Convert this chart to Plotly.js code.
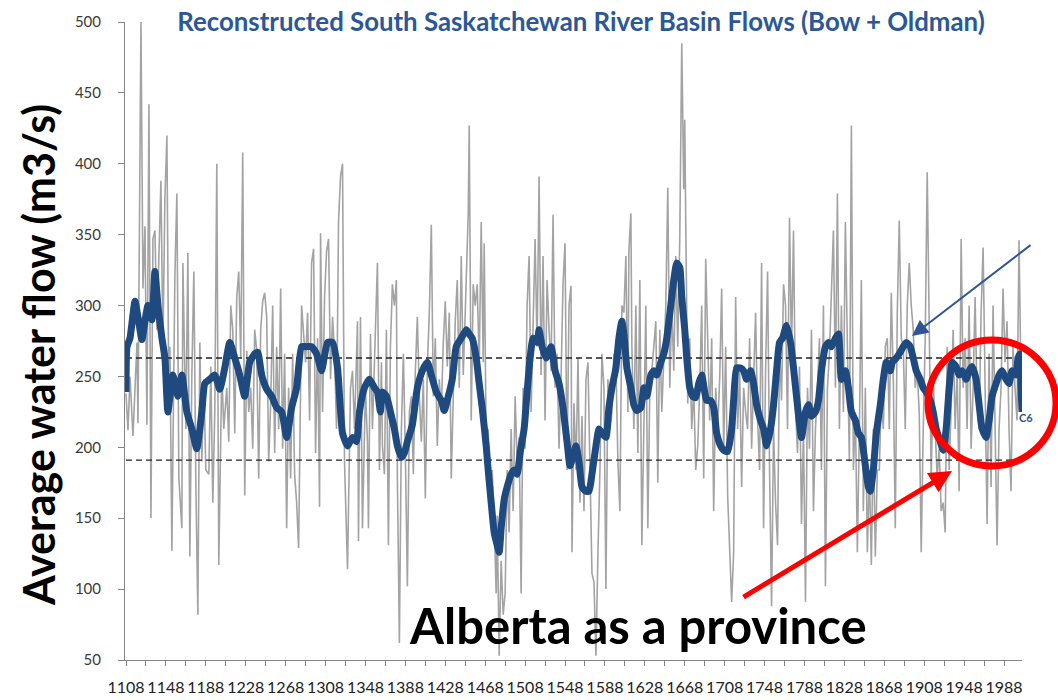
<!DOCTYPE html>
<html>
<head>
<meta charset="utf-8">
<script src="https://cdn.plot.ly/plotly-3.0.1.min.js"></script>
<style>
html,body{margin:0;padding:0;background:#fff;}
#chart{width:1058px;height:700px;}
</style>
</head>
<body>
<div id="chart"></div>
<script>
// Annual reconstructed flow (grey)
const greyYears = [
1108,1110,1112,1115,1119,1120,1123,1125,1127,1129,
1131,1133,1135,1137,1139,1141,1143,1145,1147,1149,
1151,1152,1154,1155,1157,1159,1161,1164,1165,1168,
1170,1172,1174,1176,1178,1180,1182,1184,1186,1188,
1191,1193,1195,1197,1199,1201,1204,1206,1209,1211,
1213,1215,1217,1219,1221,1223,1225,1227,1229,1231,
1233,1235,1237,1239,1241,1243,1245,1247,1249,1251,
1253,1255,1257,1259,1261,1263,1265,1267,1269,1271,
1273,1275,1277,1279,1281,1284,1286,1288,1290,1292,
1294,1296,1298,1300,1302,1303,1305,1307,1309,1311,
1313,1315,1317,1319,1321,1323,1325,1327,1330,
1333,1335,1337,1340,1341,1343,1345,1348,1350,1351,
1353,1355,1358,1360,1362,1364,1365,1367,1369,1371,
1373,1375,1377,1379,1380,1382,1384,1386,1388,1390,
1392,1394,1396,1398,1400,1402,1404,1406,1408,1410,
1412,1414,1416,1418,1420,1422,1424,1426,1428,1430,
1432,1434,1436,1438,1440,1442,1444,1446,1448,1450,
1451,1452,1454,1456,1458,1460,1462,1464,1466,1467,
1469,1471,1473,1475,1477,1479,1480,1482,1484,1486,
1488,1490,1492,1494,1496,1498,1500,1502,1504,1506,
1508,1510,1512,1514,1516,1518,1520,1522,1524,1526,
1528,1530,1532,1534,1536,1538,1540,1542,1544,1546,
1548,1550,1552,
1554,1555,1557,1559,1561,1563,1565,1567,1569,1571,
1573,1575,1577,1579,1581,1583,1585,1587,1589,1591,
1593,1595,1597,1599,1601,1603,1605,1607,1609,1611,
1612,1614,1615,1617,1619,1621,1623,1625,1627,1629,
1631,1633,1635,1637,1639,1641,1643,1645,1647,1649,
1651,1653,1655,1657,1659,1661,1663,1665,1667,1668,
1669,1671,1673,1675,1677,1679,1681,1683,1685,1687,
1689,1691,1693,1695,1697,1699,1701,1703,1705,1707,
1709,1711,1713,1715,1717,1719,1721,1723,1725,1727,
1729,1731,1733,1735,1737,1739,1741,1743,1745,1747,
1749,1751,1753,1755,1757,1759,1761,1763,1765,1767,
1769,1771,1773,1775,1777,
1779,1781,1783,1785,1787,1789,1791,1793,1795,1797,
1799,1801,1803,1805,1807,1809,1811,1813,1815,1817,
1819,1821,1823,1825,1827,1829,1831,1833,1835,1837,
1839,1841,1843,1845,1847,1849,1851,1853,1855,1857,
1859,1861,1863,1865,1867,1869,1871,1873,1875,1877,
1879,1881,1883,1885,1887,1889,1891,1893,1895,1897,
1899,1901,1903,1905,1907,1909,1911,1913,1915,1917,
1919,1921,1923,1925,1927,1929,1931,1933,1935,1937,
1939,1941,1943,1945,1947,1949,1951,1953,1955,1957,
1959,1961,1963,1965,1967,1969,1971,1973,1975,1977,
1979,1981,1983,1985,1987,1989,1991,1993,1995,1997,
1999,2001,2003,2005
];
const greyFlow = [
238,212,250,208,274,217,500,312,356,216,
442,150,347,353,283,347,388,271,376,420,
225,271,127,196,321,379,178,143,330,213,
337,123,251,324,175,82,274,190,248,184,
181,257,161,225,400,117,254,213,242,204,
300,283,210,306,324,263,408,166,268,225,
242,199,283,268,178,283,303,309,292,190,
231,300,196,271,213,312,199,266,143,242,
178,266,181,161,129,300,283,260,295,219,
330,340,196,277,158,351,225,306,338,347,
248,292,266,213,359,391,400,190,114,
242,254,213,289,134,292,143,242,204,143,
280,213,295,330,184,260,201,181,283,131,
271,315,300,318,178,62,213,266,196,102,
225,236,181,254,292,236,204,248,164,257,
295,357,236,277,201,248,225,274,303,257,
295,178,236,289,318,242,335,251,295,335,
365,427,219,315,300,315,257,359,260,344,
204,213,155,184,149,97,152,53,120,82,
97,184,140,213,155,236,190,207,97,242,
199,300,335,225,300,347,271,391,251,335,
219,318,283,254,364,242,266,199,248,315,
344,184,300,
314,126,231,184,263,161,222,155,248,260,
196,111,105,53,126,184,266,242,100,248,
213,225,266,260,190,155,300,295,335,225,
338,365,271,213,300,196,318,131,213,300,
143,242,254,271,289,175,283,225,266,300,
383,242,300,254,335,271,347,485,382,431,
359,231,277,213,242,184,201,242,300,178,
333,263,219,277,155,242,213,248,312,199,
271,166,134,91,126,306,213,254,172,242,
225,213,277,199,248,295,219,184,330,143,
254,324,184,88,213,161,131,271,233,315,
300,213,362,266,353,
228,196,257,146,213,91,242,199,283,155,
213,242,277,184,300,102,242,266,318,353,
242,379,213,300,225,359,271,190,427,184,
225,126,213,318,155,242,126,184,117,213,
123,184,184,236,213,271,277,213,309,248,
143,295,360,277,271,213,300,330,300,283,
242,254,225,126,213,277,394,271,178,248,
213,178,199,155,161,140,271,184,228,283,
213,254,169,347,242,277,213,300,199,242,
306,231,213,295,341,242,146,266,172,300,
213,131,213,242,312,260,289,213,169,271,
242,219,346,248
];

// Smoothed flow (blue)
const blueYears = [
1108,1109,1112,1117,1120,1124,1127,1130,1134,1137,
1140,1144,1147,1150,1155,1160,1164,1169,1174,1179,
1184,1187,1192,1197,1202,1207,1212,1217,1222,1227,
1232,1237,1240,1244,1249,1254,1259,1264,1269,1274,
1279,1284,1289,1294,1299,1304,1310,1315,1320,1325,
1330,1335,1339,1342,1347,1352,1357,1360,1363,1365,
1369,1374,1377,1380,1384,1387,1390,1395,1400,1405,
1410,1414,1419,1424,1427,1431,1435,1439,1444,1449,
1452,1455,1459,1462,1465,1469,1471,1474,1477,1480,
1482,1484,1487,1490,1494,1497,1500,1503,1507,1510,
1513,1516,1520,1522,1525,1529,1534,1538,1542,1546,
1550,1553,1557,1559,1562,1565,1569,1572,1575,1579,
1582,1585,1589,1592,1595,1599,1602,1605,1607,1610,
1614,1617,1620,1624,1627,1630,1634,1637,1640,1644,
1647,1650,1654,1657,1660,1663,1665,1668,1670,1673,
1676,1679,1682,1685,1688,1690,1694,1697,1700,1704,
1707,1711,1715,1717,1720,1724,1727,1730,1734,1737,
1740,1744,1747,1750,1754,1757,1760,1763,1766,1770,
1774,1777,1780,1785,1789,1792,1795,1799,1802,1805,
1809,1812,1815,1819,1822,1825,1829,1832,1835,1839,
1842,1845,1849,1852,1854,1857,1860,1864,1867,1870,
1874,1876,1880,1883,1887,1890,1894,1897,1900,1904,
1907,1910,1914,1917,1920,1924,1927,1930,1933,1936,
1940,1943,1946,1950,1953,1956,1960,1963,1966,1970,
1973,1976,1980,1983,1986,1990,1993,1996,2000,2002,
2004,2005,2006
];
const blueFlow = [
239,271,277,303,292,276,289,300,290,324,
300,277,263,225,251,236,251,225,213,199,
225,245,248,251,241,256,274,263,251,236,
260,266,267,251,241,236,228,225,207,228,
242,271,271,271,266,254,274,274,256,210,
201,207,204,225,242,248,242,239,225,239,
236,222,213,201,193,196,204,216,242,254,
260,251,239,233,226,236,248,271,277,283,
280,277,263,245,228,201,184,161,140,131,
126,143,163,172,181,184,181,196,213,239,
263,277,274,283,271,263,271,254,245,228,
204,187,196,201,190,172,169,169,181,201,
213,210,207,228,242,256,277,289,280,256,
242,230,226,228,242,236,251,254,251,260,
266,277,300,318,330,327,306,283,263,242,
236,235,245,251,239,233,233,228,210,201,
198,197,213,233,256,256,254,248,254,245,
230,219,213,201,213,230,254,274,277,286,
274,256,236,207,225,230,222,225,233,254,
271,274,271,277,280,248,254,242,225,219,
210,207,187,172,169,184,210,230,248,260,
254,260,263,266,271,274,271,263,254,248,
242,239,233,225,213,204,198,213,242,260,
257,251,254,248,254,257,248,230,213,207,
219,236,245,251,254,248,245,254,251,263,
266,242,225
];

// Reference levels (dashed)
const refLevels = [263, 191];

// Axis tick labels
const xTickLabels = ['1108','1148','1188','1228','1268','1308','1348','1388','1428','1468','1508','1548','1588','1628','1668','1708','1748','1788','1828','1868','1908','1948','1988'];
const yTickValues = [50,100,150,200,250,300,350,400,450,500];

const titleText = 'Reconstructed South Saskatchewan River Basin Flows (Bow + Oldman)';
const yTitleText = 'Average water flow (m3/s)';
const calloutText = 'Alberta as a province';

const firstYear = greyYears[0];
const lastYear = blueYears[blueYears.length - 1];

const traces = [];
traces.push({
  x: greyYears, y: greyFlow, type: 'scatter', mode: 'lines',
  line: {color: '#a3a3a3', width: 1.6}, hoverinfo: 'skip', showlegend: false
});
refLevels.forEach(v => {
  traces.push({
    x: [firstYear, lastYear], y: [v, v], type: 'scatter', mode: 'lines',
    line: {color: '#222222', width: 1.4, dash: '6px,4px'}, hoverinfo: 'skip', showlegend: false
  });
});
traces.push({
  x: blueYears, y: blueFlow, type: 'scatter', mode: 'lines',
  line: {color: '#1f4a80', width: 7, shape: 'spline', smoothing: 0.5}, hoverinfo: 'skip', showlegend: false
});

const PL = 125, PR = 1022, PT = 22, PB = 660;
const px = x => (x - PL) / (PR - PL);
const py = y => (PB - y) / (PB - PT);

const layout = {
  width: 1058, height: 700,
  margin: {l: PL, r: 1058 - PR, t: PT, b: 700 - PB, pad: 0},
  paper_bgcolor: '#ffffff', plot_bgcolor: '#ffffff',
  showlegend: false,
  font: {family: 'Lato, "Open Sans", sans-serif'},
  title: {
    text: '<b>' + titleText + '</b>',
    font: {family: 'Lato, sans-serif', size: 25.8, color: '#2b5797'},
    x: 581/1058, xanchor: 'center', xref: 'container',
    y: 1 - 22/700, yanchor: 'middle', yref: 'container'
  },
  xaxis: {
    range: [1107, 2006],
    tickmode: 'array',
    tickvals: xTickLabels.map(Number),
    ticktext: xTickLabels,
    ticks: 'outside', ticklen: 5, tickcolor: '#868686', tickwidth: 1,
    minor: {tickmode: 'linear', tick0: 1128, dtick: 40, ticks: 'outside', ticklen: 5, tickcolor: '#868686', showgrid: false},
    showline: true, linecolor: '#868686', linewidth: 1,
    showgrid: false, zeroline: false,
    tickfont: {family: 'Lato, sans-serif', size: 16, color: '#222222'},
    ticklabelstandoff: 8, fixedrange: true
  },
  yaxis: {
    range: [50, 500],
    tickmode: 'array', tickvals: yTickValues, ticktext: yTickValues.map(String),
    ticks: 'outside', ticklen: 6, tickcolor: '#868686', tickwidth: 1,
    showline: true, linecolor: '#868686', linewidth: 1,
    showgrid: false, zeroline: false,
    tickfont: {family: 'Lato, sans-serif', size: 15, color: '#3a3a3a'},
    ticklabelstandoff: 14, fixedrange: true
  },
  shapes: [
    {type: 'circle', xref: 'paper', yref: 'paper',
     x0: px(928), x1: px(1056), y0: py(466), y1: py(340),
     line: {color: '#ff0000', width: 7}, fillcolor: 'rgba(0,0,0,0)', layer: 'above'}
  ],
  annotations: [
    {text: '<b>' + yTitleText + '</b>', xref: 'paper', yref: 'paper',
     x: px(38), y: py(355), xanchor: 'center', yanchor: 'middle', textangle: -90,
     showarrow: false, font: {family: 'Lato, sans-serif', size: 43, color: '#000000'}},
    {text: '<b>' + calloutText + '</b>', xref: 'paper', yref: 'paper',
     x: px(638), y: py(625), xanchor: 'center', yanchor: 'middle',
     showarrow: false, font: {family: 'Lato, sans-serif', size: 49, color: '#000000'}},
    {text: '', xref: 'paper', yref: 'paper', x: px(952), y: py(471),
     showarrow: true, ax: 742 - 952, ay: 598 - 471, arrowhead: 2, arrowsize: 0.9,
     arrowwidth: 5, arrowcolor: '#ff0000'},
    {text: '', xref: 'paper', yref: 'paper', x: px(912), y: py(336),
     showarrow: true, ax: 1032 - 912, ay: 244 - 336, arrowhead: 2, arrowsize: 1.6,
     arrowwidth: 2, arrowcolor: '#2f5597'},
    {text: '<b>C6</b>', xref: 'paper', yref: 'paper', x: px(1017), y: py(417),
     xanchor: 'left', yanchor: 'middle', showarrow: false,
     font: {family: 'Lato, sans-serif', size: 11, color: '#2f5597'}}
  ]
};

Plotly.newPlot('chart', traces, layout, {displayModeBar: false, staticPlot: true});
</script>
</body>
</html>
